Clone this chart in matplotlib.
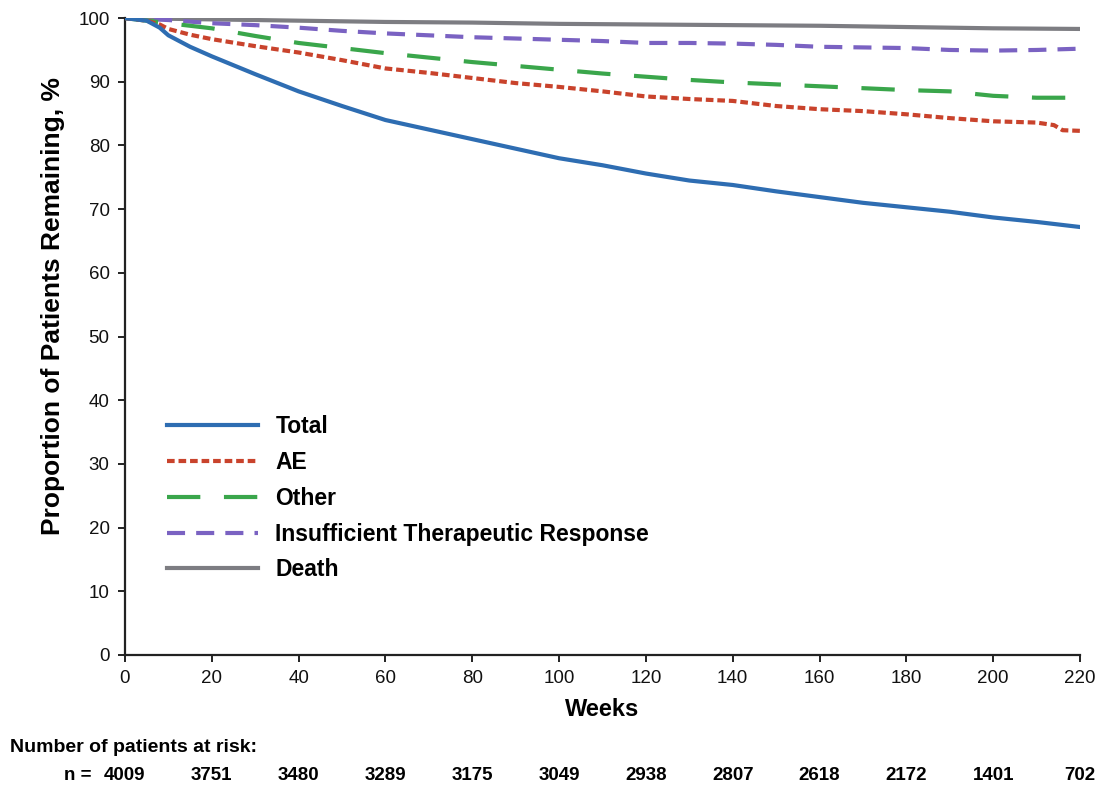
import matplotlib
matplotlib.use('Agg')
import matplotlib.pyplot as plt
from matplotlib.transforms import blended_transform_factory

plt.rcParams['font.family'] = ['Liberation Sans', 'DejaVu Sans']
plt.rcParams['lines.scale_dashes'] = False

# Kaplan-Meier style curves
weeks = [0, 5, 8, 10, 15, 20, 30, 40, 50, 60, 70, 80, 90, 100, 110, 120,
         130, 140, 150, 160, 170, 180, 190, 200, 210, 220]
total = [100, 99.6, 98.5, 97.3, 95.5, 94.0, 91.2, 88.5, 86.2, 84.0, 82.5,
         81.0, 79.5, 78.0, 76.9, 75.6, 74.5, 73.8, 72.8, 71.9, 71.0, 70.3,
         69.6, 68.7, 68.0, 67.2]

ae_weeks = [0, 5, 8, 10, 15, 20, 30, 40, 50, 60, 70, 80, 90, 100, 110, 120,
            130, 140, 150, 160, 170, 180, 190, 200, 210, 214, 216, 220]
ae = [100, 99.6, 99.0, 98.3, 97.4, 96.7, 95.6, 94.6, 93.4, 92.1, 91.4, 90.6,
      89.8, 89.2, 88.5, 87.7, 87.3, 87.0, 86.2, 85.7, 85.4, 84.9, 84.3, 83.8,
      83.6, 83.2, 82.4, 82.3]

other_weeks = [0, 10, 20, 30, 40, 50, 60, 70, 80, 90, 100, 110, 120, 130,
               140, 150, 160, 170, 180, 190, 200, 210, 220]
other = [100, 99.2, 98.4, 97.2, 96.1, 95.3, 94.5, 93.8, 93.1, 92.5, 91.9,
         91.3, 90.8, 90.3, 89.9, 89.6, 89.3, 89.0, 88.7, 88.5, 87.8, 87.5, 87.5]

itr_weeks = other_weeks
itr = [100, 99.7, 99.2, 98.9, 98.5, 98.0, 97.6, 97.3, 97.0, 96.8, 96.6, 96.4,
       96.1, 96.1, 96.0, 95.8, 95.5, 95.4, 95.3, 95.0, 94.9, 95.0, 95.2]

death_weeks = [0, 20, 40, 60, 80, 100, 120, 140, 160, 180, 190, 200, 220]
death = [100, 99.8, 99.6, 99.4, 99.3, 99.1, 99.0, 98.9, 98.8, 98.6, 98.5,
         98.4, 98.3]

risk_weeks = [0, 20, 40, 60, 80, 100, 120, 140, 160, 180, 200, 220]
at_risk = [4009, 3751, 3480, 3289, 3175, 3049, 2938, 2807, 2618, 2172, 1401, 702]

fig = plt.figure(figsize=(10.99, 7.88), dpi=100)
ax = fig.add_axes([0.1137, 0.1688, 0.869, 0.8082])

ax.plot(death_weeks, death, color='#7d7d82', lw=3.0, label='Death', zorder=2)
ax.plot(itr_weeks, itr, color='#7a62c2', lw=3.0, dashes=(13, 8),
        label='Insufficient Therapeutic Response', zorder=3)
ax.plot(other_weeks, other, color='#3aa64b', lw=3.0, dashes=(24, 17),
        label='Other', zorder=3)
ax.plot(ae_weeks, ae, color='#c9432c', lw=3.0, dashes=(5.5, 2.8),
        label='AE', zorder=3)
ax.plot(weeks, total, color='#2e6db2', lw=3.0, label='Total', zorder=4)

ax.set_xlim(0, 220)
ax.set_ylim(0, 100)
ax.set_xticks(range(0, 221, 20))
ax.set_yticks(range(0, 101, 10))
ax.spines['top'].set_visible(False)
ax.spines['right'].set_visible(False)
for s in ('left', 'bottom'):
    ax.spines[s].set_linewidth(1.6)
    ax.spines[s].set_color('#222222')
ax.tick_params(direction='out', length=5, width=1.4, color='#222222',
               labelsize=13.5, labelcolor='#111111', pad=6)

ax.set_xlabel('Weeks', fontsize=17, fontweight='bold', labelpad=8)
ax.set_ylabel('Proportion of Patients Remaining, %', fontsize=19,
              fontweight='bold')
ax.yaxis.set_label_coords(-0.063, 0.548)

handles, labels = ax.get_legend_handles_labels()
order = ['Total', 'AE', 'Other', 'Insufficient Therapeutic Response', 'Death']
hmap = dict(zip(labels, handles))
leg = ax.legend([hmap[k] for k in order], order, loc='upper left',
                bbox_to_anchor=(0.034, 0.391), borderaxespad=0, frameon=False,
                fontsize=16.5, handlelength=4.0, handletextpad=0.75,
                labelspacing=0.56)
for t in leg.get_texts():
    t.set_fontweight('bold')

# number at risk table
fig.text(10 / 1099, 1 - 748 / 788, 'Number of patients at risk:',
         fontsize=14, fontweight='bold', va='center', ha='left')
trans = blended_transform_factory(ax.transData, fig.transFigure)
y_row = 1 - 775 / 788
fig.text(91 / 1099, y_row, 'n =', fontsize=13.5, fontweight='bold',
         va='center', ha='right')
for wk, n in zip(risk_weeks, at_risk):
    ax.text(wk, y_row, str(n), transform=trans, fontsize=13.5,
            fontweight='bold', va='center', ha='center', clip_on=False)

fig.savefig('out.png', dpi=100)
